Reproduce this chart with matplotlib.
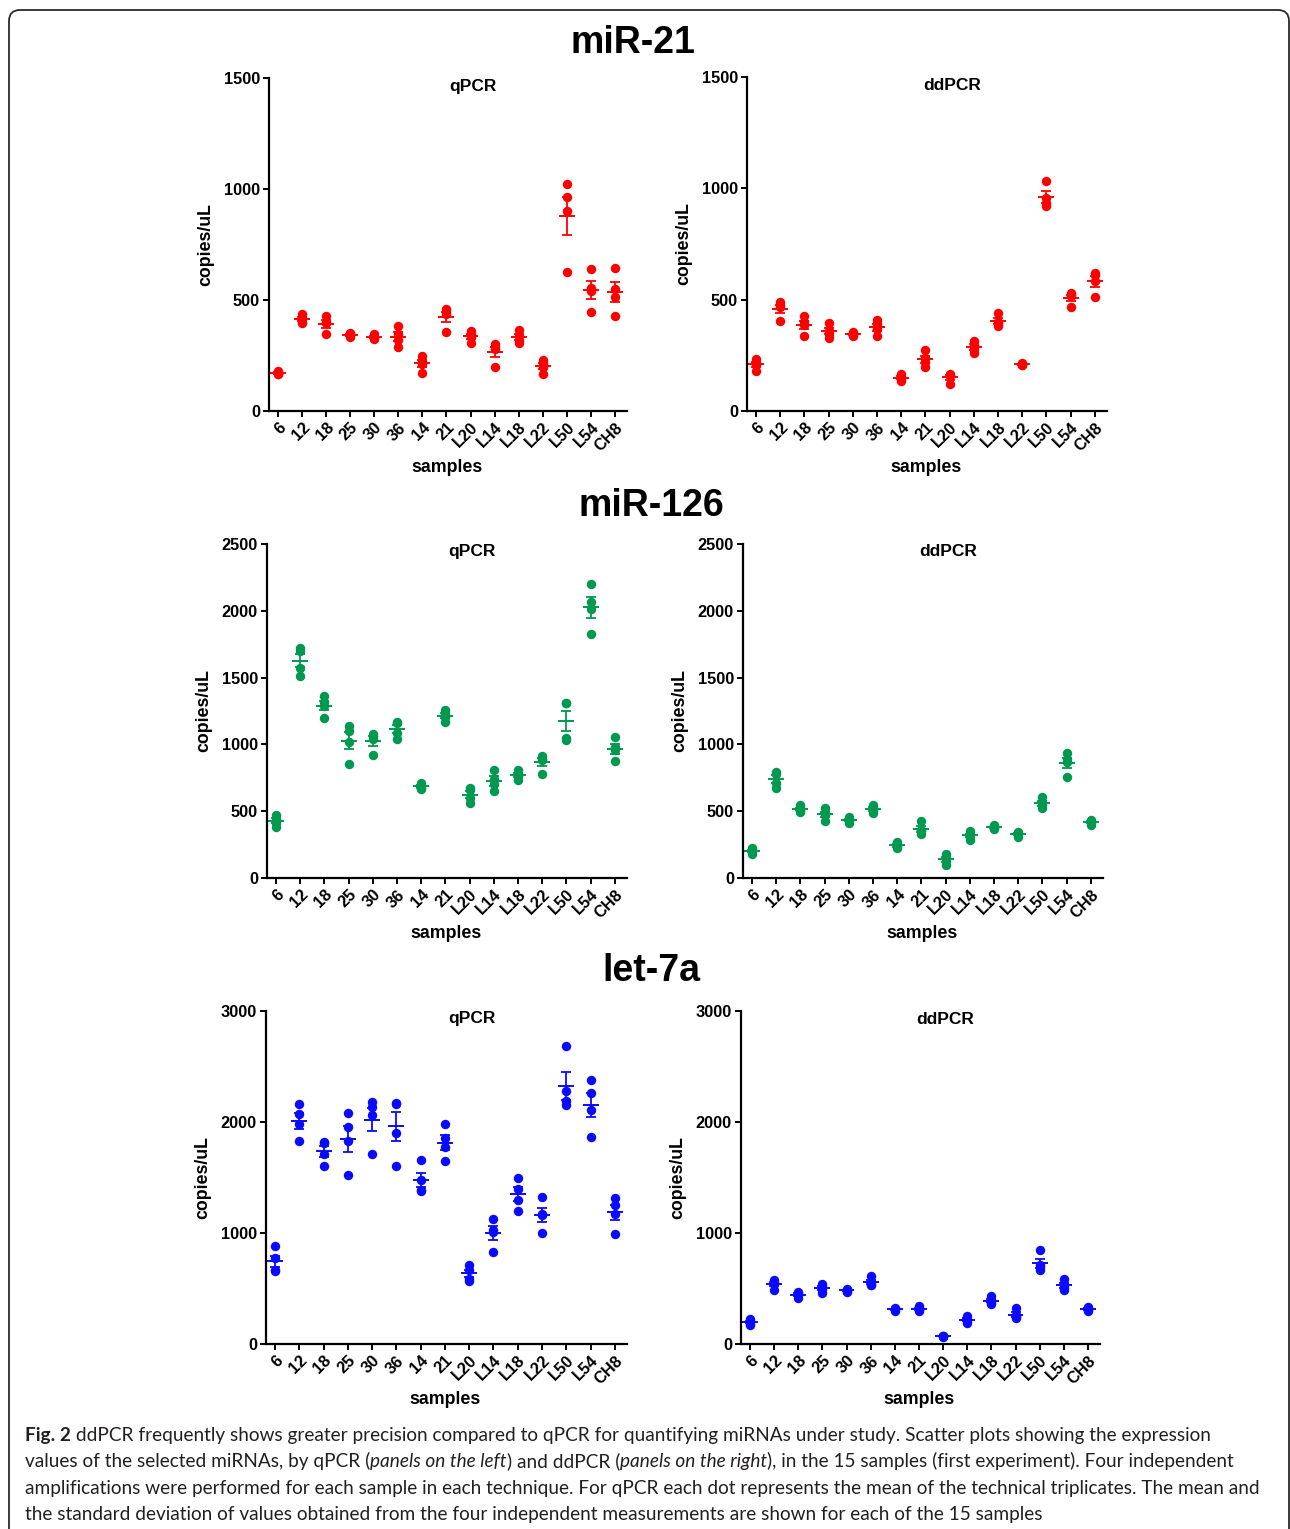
import matplotlib
matplotlib.use("Agg")
import matplotlib.pyplot as plt
import numpy as np
from matplotlib import font_manager
from matplotlib.patches import FancyBboxPatch

# ---------------- data ----------------
samples = ['6', '12', '18', '25', '30', '36', '14', '21', 'L20', 'L14', 'L18', 'L22', 'L50', 'L54', 'CH8']

mir21_qpcr = [[180, 172, 165, 168], [437, 415, 403, 395], [428, 400, 395, 347], [350, 345, 340, 335],
              [347, 335, 330, 325], [385, 345, 320, 287], [250, 225, 212, 170], [460, 445, 435, 355],
              [360, 345, 335, 305], [300, 290, 280, 200], [365, 340, 315, 308], [228, 215, 200, 168],
              [1022, 962, 900, 628], [640, 555, 540, 448], [646, 548, 515, 430]]
mir21_ddpcr = [[235, 215, 208, 180], [488, 475, 465, 405], [425, 400, 385, 337], [395, 360, 345, 330],
               [355, 345, 340, 335], [410, 390, 370, 335], [165, 152, 145, 135], [272, 240, 220, 196],
               [165, 160, 155, 122], [315, 295, 278, 260], [442, 398, 390, 380], [215, 212, 208, 205],
               [1035, 958, 932, 920], [530, 520, 515, 468], [622, 610, 585, 510]]
mir126_qpcr = [[470, 440, 415, 385], [1720, 1700, 1570, 1515], [1360, 1320, 1285, 1195], [1137, 1100, 1015, 852],
               [1077, 1060, 1040, 918], [1170, 1160, 1085, 1040], [712, 690, 675, 668], [1257, 1230, 1205, 1168],
               [677, 660, 600, 562], [812, 740, 700, 652], [807, 780, 760, 735], [915, 890, 880, 780],
               [1307, 1307, 1050, 1035], [2202, 2065, 2010, 1828], [1052, 980, 960, 878]]
mir126_ddpcr = [[222, 210, 195, 182], [795, 780, 710, 672], [545, 520, 505, 495], [522, 490, 470, 428],
                [458, 440, 425, 410], [550, 525, 505, 490], [270, 250, 235, 222], [427, 360, 350, 330],
                [177, 160, 130, 95], [350, 330, 310, 285], [395, 380, 372, 365], [348, 335, 330, 310],
                [605, 560, 545, 522], [937, 890, 870, 758], [435, 420, 410, 400]]
let7a_qpcr = [[879, 775, 668, 655], [2163, 2070, 1980, 1830], [1820, 1810, 1712, 1600], [2079, 1953, 1833, 1524],
              [2178, 2135, 2064, 1710], [2172, 2160, 1905, 1608], [1659, 1480, 1390, 1375], [1983, 1855, 1775, 1645],
              [714, 670, 590, 570], [1128, 1030, 1008, 830], [1494, 1395, 1299, 1200], [1320, 1170, 1165, 1000],
              [2685, 2275, 2190, 2150], [2379, 2260, 2110, 1862], [1314, 1255, 1175, 995]]
let7a_ddpcr = [[222, 205, 185, 175], [580, 560, 545, 485], [470, 455, 440, 410], [545, 520, 490, 462],
               [498, 490, 478, 470], [610, 550, 535, 530], [325, 318, 312, 300], [340, 320, 305, 295],
               [72, 70, 68, 66], [250, 225, 210, 192], [435, 395, 370, 362], [325, 265, 240, 232],
               [849, 710, 690, 665], [590, 535, 505, 482], [335, 320, 310, 298]]

group_titles = ['miR-21', 'miR-126', 'let-7a']
method_titles = ['qPCR', 'ddPCR']
y_max = [1500, 2500, 3000]
y_step = [500, 500, 1000]
colors = ['#ff0000', '#00994f', '#0a0aff']

caption_lines = [
    [("Fig. 2", "bold"), (" ddPCR frequently shows greater precision compared to qPCR for quantifying miRNAs under study. Scatter plots showing the expression", "normal")],
    [("values of the selected miRNAs, by qPCR (", "normal"), ("panels on the left", "italic"), (") and ddPCR (", "normal"),
     ("panels on the right", "italic"), ("), in the 15 samples (first experiment). Four independent", "normal")],
    [("amplifications were performed for each sample in each technique. For qPCR each dot represents the mean of the technical triplicates. The mean and", "normal")],
    [("the standard deviation of values obtained from the four independent measurements are shown for each of the 15 samples", "normal")],
]

# ---------------- layout ----------------
W, H = 1290, 1529
fig = plt.figure(figsize=(W / 100, H / 100), dpi=100)
fig.patch.set_facecolor('white')

plt.rcParams['font.family'] = ['Liberation Sans', 'DejaVu Sans']

# frame (rounded, bottom edge lies below the picture)
frame = FancyBboxPatch((0.09, -0.40), 12.80, 15.59,
                       boxstyle="round,pad=0,rounding_size=0.11",
                       transform=fig.dpi_scale_trans, fill=False,
                       edgecolor='#2a2a2a', linewidth=1.3)
fig.add_artist(frame)

def ftxt(x, y, s, **kw):
    return fig.text(x / W, 1 - y / H, s, **kw)

panel_boxes = [
    [(269, 627, 78, 411), (747, 1107, 77, 411)],
    [(267, 627, 544, 878), (743, 1103, 544, 878)],
    [(266, 627, 1011, 1344), (741, 1100, 1011, 1344)],
]
title_pos = [(633, 43), (651, 506), (651, 971)]
datasets = [[mir21_qpcr, mir21_ddpcr], [mir126_qpcr, mir126_ddpcr], [let7a_qpcr, let7a_ddpcr]]

x = np.arange(len(samples))
for g in range(3):
    ftxt(title_pos[g][0], title_pos[g][1], group_titles[g], fontsize=27, fontweight='bold',
         ha='center', va='center', color='black')
    for m in range(2):
        l, r, t, b = panel_boxes[g][m]
        ax = fig.add_axes([l / W, 1 - b / H, (r - l) / W, (b - t) / H])
        data = datasets[g][m]
        col = colors[g]
        for i, vals in enumerate(data):
            vals = np.asarray(vals, dtype=float)
            mean = vals.mean()
            sem = vals.std(ddof=1) / np.sqrt(len(vals))
            ax.plot(np.full(len(vals), x[i]), vals, 'o', color=col, markersize=6.8,
                    markeredgewidth=0, zorder=3)
            ax.errorbar(x[i], mean, yerr=sem, fmt='none', ecolor=col, elinewidth=1.3,
                        capsize=3.3, capthick=1.3, zorder=2)
            ax.hlines(mean, x[i] - 0.33, x[i] + 0.33, color=col, linewidth=1.4, zorder=2)
        ax.set_xlim(-0.37, 14.5)
        ax.set_ylim(0, y_max[g])
        ax.set_yticks(np.arange(0, y_max[g] + 1, y_step[g]))
        ax.set_xticks(x)
        ax.set_xticklabels(samples, rotation=45, ha='right', rotation_mode='anchor')
        for sp in ['top', 'right']:
            ax.spines[sp].set_visible(False)
        for sp in ['left', 'bottom']:
            ax.spines[sp].set_linewidth(1.6)
        ax.tick_params(direction='out', length=4.5, width=1.4, labelsize=11.8, pad=2)
        for lab in ax.get_xticklabels() + ax.get_yticklabels():
            lab.set_fontweight('bold')
        ax.set_facecolor('none')
        # panel title
        ftxt(l + 0.57 * (r - l), t + 8, method_titles[m], fontsize=12.5, fontweight='bold',
             ha='center', va='center')
        # axis labels
        ftxt(l + 0.497 * (r - l), b + 56, 'samples', fontsize=12.8, fontweight='bold',
             ha='center', va='center')
        ftxt(l - 63, (t + b) / 2, 'copies/uL', fontsize=12.8, fontweight='bold',
             ha='center', va='center', rotation=90)

# ---------------- caption ----------------
def has_font(name):
    try:
        font_manager.findfont(name, fallback_to_default=False)
        return True
    except Exception:
        return False

cap_family = 'Lato'
for cand in ['Liberation Sans Narrow', 'Lato', 'Open Sans']:
    if has_font(cand):
        cap_family = cand
        break
renderer = fig.canvas.get_renderer()
cap_color = '#231f20'

def seg_width(text, style, size):
    kw = dict(fontsize=size, family=[cap_family, 'DejaVu Sans'])
    if style == 'bold':
        kw['fontweight'] = 'bold'
    if style == 'italic':
        kw['fontstyle'] = 'italic'
    t1 = fig.text(0, 0, text + '|', **kw)
    t2 = fig.text(0, 0, '|', **kw)
    w = t1.get_window_extent(renderer).width - t2.get_window_extent(renderer).width
    t1.remove(); t2.remove()
    return w, kw

base = 14
targets = [1225, 1212, 1237, 1025]
scales = []
for line, tw in zip(caption_lines, targets):
    wl = sum(seg_width(s, st, base)[0] for s, st in line)
    scales.append(tw / wl)
cap_size = min(base * min(scales[:3]), 15.5)

baselines = [1441, 1467, 1494, 1520]
for line, yb in zip(caption_lines, baselines):
    xc = 25
    for s, st in line:
        w, kw = seg_width(s, st, cap_size)
        ftxt(xc, yb, s, ha='left', va='baseline', color=cap_color, **kw)
        xc += w

fig.savefig('out.png', dpi=100, facecolor='white')
